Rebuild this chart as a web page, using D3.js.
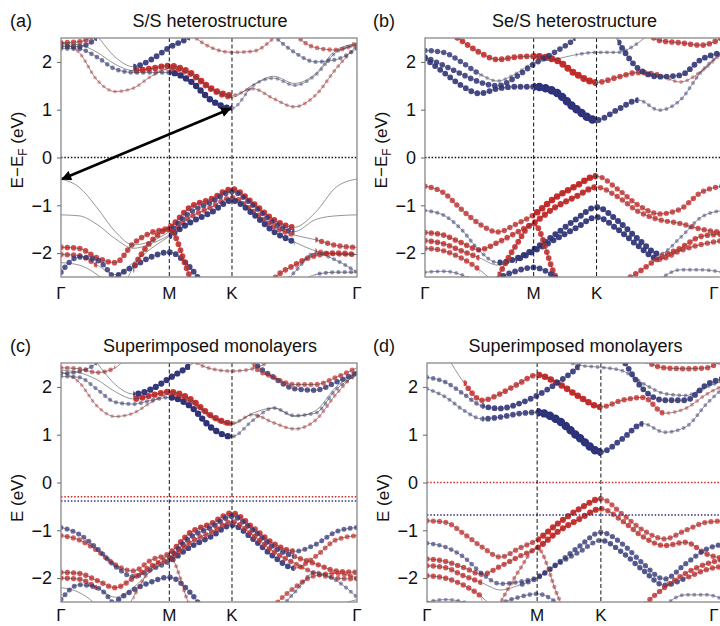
<!DOCTYPE html>
<html>
<head>
<meta charset="utf-8">
<script src="https://cdn.jsdelivr.net/npm/d3@7"></script>
<style>
  body { margin: 0; background: #fff; }
  svg { font-family: "Liberation Sans", Arial, Helvetica, sans-serif; }
</style>
</head>
<body>
<svg id="chart" width="720" height="626"></svg>
<script>
// k-path sample points (Γ–M–K–Γ) and high-symmetry labels
const kPts = [0, 0.096, 0.192, 0.289, 0.385, 0.481, 0.577, 0.688, 0.800, 0.911, 1.022, 1.133, 1.244, 1.355, 1.466, 1.577];
const symK = [0, 0.577, 0.911, 1.577];
const symLabels = ["Γ", "M", "K", "Γ"];
const yTicks = [-2, -1, 0, 1, 2];

// bands: e = energy at each kPt, dots = [fromIdx, toIdx, weight, layer]
const bandsA = [
  {e: [-1.88,-1.9,-2.1,-2.2,-1.8,-1.57,-1.46,-1.04,-0.87,-0.66,-0.95,-1.3,-1.46,-1.15,-0.62,-0.45], dots: [[0,6,0.85,"r"],[6,12,0.95,"r"]]},
  {e: [-0.45,-0.62,-1.05,-1.55,-1.83,-1.75,-1.55,-1.15,-0.94,-0.72,-1.0,-1.37,-1.55,-1.3,-1.22,-1.2], dots: [[6,12,0.8,"b"]]},
  {e: [-1.2,-1.22,-1.4,-1.7,-1.9,-1.8,-1.62,-1.25,-1.04,-0.84,-1.12,-1.45,-1.62,-1.72,-1.84,-1.88], dots: [[6,12,0.8,"r"],[13,15,0.8,"r"]]},
  {e: [-2.03,-2.05,-2.25,-2.45,-2.2,-1.9,-1.65,-1.36,-1.15,-0.9,-1.18,-1.55,-1.77,-1.95,-2.02,-2.03], dots: [[0,2,0.8,"r"],[6,12,0.95,"b"],[13,15,0.7,"r"]]},
  {e: [-3.3,-3.3,-2.8,-2.5,-2.28,-2.08,-1.98,-2.3,-2.9,-3.3,-3.3,-2.9,-2.4,-2.0,-2.15,-2.4], dots: [[3,8,0.9,"b"],[11,15,0.45,"b"]]},
  {e: [-2.4,-2.08,-2.15,-2.55,-3.0,-3.3,-3.3,-3.3,-3.3,-3.3,-3.3,-3.1,-2.7,-2.45,-2.4,-2.4], dots: [[0,3,0.8,"b"],[13,15,0.5,"b"]]},
  {e: [-3.3,-3.3,-3.3,-3.0,-2.3,-1.75,-1.5,-2.5,-3.3,-3.3,-3.3,-3.3,-3.3,-3.3,-3.3,-3.3], dots: [[4,8,0.9,"r"]]},
  {e: [-2.2,-2.25,-2.45,-2.8,-3.3,-3.3,-3.3,-3.3,-3.3,-3.3,-3.3,-2.55,-2.25,-2.05,-2.0,-2.03], dots: [[10,15,0.85,"r"]]},
  {e: [2.28,2.27,2.1,1.85,1.78,1.78,1.78,1.6,1.2,1.03,1.5,1.66,1.51,1.72,2.2,2.35], dots: [[0,6,0.6,"b"],[6,9,1.05,"b"],[9,15,0.35,"b"]]},
  {e: [2.38,2.36,2.2,1.95,1.82,1.86,1.92,1.78,1.45,1.3,1.44,1.23,1.06,1.3,1.86,2.35], dots: [[4,9,1.0,"r"],[9,15,0.4,"r"]]},
  {e: [2.4,2.2,1.62,1.38,1.45,1.7,1.86,1.74,1.42,1.26,1.52,1.7,1.55,1.75,2.25,2.38], dots: [[0,6,0.35,"r"],[6,9,0.8,"r"]]},
  {e: [3.3,3.0,2.55,2.1,1.9,2.05,2.3,2.52,2.85,3.3,3.3,3.3,3.3,3.3,3.3,3.3], dots: [[4,7,0.9,"b"]]},
  {e: [3.3,3.3,3.3,3.3,3.3,3.3,3.1,2.6,2.3,2.2,2.22,2.5,3.0,3.3,3.3,3.3], dots: [[7,11,0.45,"r"]]},
  {e: [2.33,2.32,2.5,2.9,3.3,3.3,3.3,3.3,3.3,3.3,3.0,2.55,2.2,2.0,2.05,2.28], dots: [[0,2,0.8,"b"],[11,15,0.5,"b"]]},
  {e: [2.4,2.42,2.6,3.0,3.3,3.3,3.3,3.3,3.3,3.3,3.3,3.3,2.6,2.3,2.25,2.4], dots: [[0,2,0.8,"r"],[12,15,0.6,"r"]]}
];

const bandsB = [
  {e: [-0.6,-0.73,-1.08,-1.39,-1.56,-1.4,-1.2,-0.85,-0.6,-0.39,-0.66,-1.0,-1.18,-1.08,-0.73,-0.6], dots: [[0,6,0.8,"r"],[6,9,1.1,"r"],[9,15,0.8,"r"]]},
  {e: [-1.57,-1.62,-1.78,-1.93,-1.78,-1.58,-1.37,-1.05,-0.82,-0.62,-0.82,-1.13,-1.3,-1.38,-1.5,-1.57], dots: [[0,6,0.85,"r"],[6,9,1.0,"r"],[9,15,0.8,"r"]]},
  {e: [-1.11,-1.2,-1.5,-1.95,-2.2,-2.12,-1.92,-1.62,-1.3,-1.04,-1.32,-1.71,-2.02,-1.68,-1.25,-1.11], dots: [[0,4,0.45,"b"],[4,12,0.95,"b"],[12,15,0.4,"b"]]},
  {e: [-1.74,-1.8,-1.95,-2.1,-2.25,-2.15,-1.96,-1.72,-1.48,-1.25,-1.5,-1.85,-2.13,-1.95,-1.82,-1.74], dots: [[0,3,0.85,"r"],[5,12,0.95,"b"],[12,15,0.8,"r"]]},
  {e: [-3.3,-3.3,-3.3,-3.1,-2.5,-1.85,-1.38,-2.45,-3.3,-3.3,-3.3,-3.3,-3.3,-3.3,-3.3,-3.3], dots: [[4,8,0.9,"r"]]},
  {e: [-3.3,-3.3,-3.3,-2.9,-2.55,-2.38,-2.3,-2.5,-3.0,-3.3,-3.3,-3.3,-3.3,-3.3,-3.3,-3.3], dots: [[3,8,0.9,"b"]]},
  {e: [-2.4,-2.38,-2.45,-2.7,-3.1,-3.3,-3.3,-3.3,-3.3,-3.3,-3.3,-2.9,-2.55,-2.35,-2.35,-2.4], dots: [[0,3,0.4,"b"],[11,15,0.4,"b"]]},
  {e: [-1.9,-1.95,-2.1,-2.35,-2.7,-3.3,-3.3,-3.3,-3.3,-3.3,-2.7,-2.4,-2.1,-1.9,-1.65,-1.6], dots: [[0,3,0.8,"r"],[10,15,0.85,"r"]]},
  {e: [2.07,1.79,1.51,1.34,1.44,1.48,1.48,1.38,1.02,0.78,1.0,1.2,0.99,1.2,1.79,2.2], dots: [[0,6,0.9,"b"],[6,9,1.6,"b"],[9,11,0.9,"b"],[11,15,0.4,"b"]]},
  {e: [3.3,2.75,2.45,2.2,2.05,2.1,2.12,2.05,1.75,1.57,1.68,1.78,1.72,1.58,1.8,2.2], dots: [[1,6,0.9,"r"],[6,9,1.2,"r"],[9,12,0.85,"r"],[12,15,0.4,"r"]]},
  {e: [2.1,1.93,1.75,1.58,1.5,1.68,1.95,2.2,2.5,3.0,3.3,3.3,3.3,3.3,3.3,3.3], dots: [[0,8,0.85,"b"]]},
  {e: [2.24,2.2,2.0,1.75,1.6,1.75,1.98,2.05,2.15,2.2,2.2,2.4,2.8,3.3,3.3,3.3], dots: [[0,3,0.8,"b"],[3,6,0.35,"b"],[8,11,0.4,"b"]]},
  {e: [3.3,3.3,3.3,3.3,3.3,3.3,3.3,3.3,3.3,3.3,2.45,1.86,1.69,1.72,2.05,2.2], dots: [[10,15,0.9,"b"]]},
  {e: [3.3,3.3,3.3,3.3,3.3,3.3,3.3,3.3,3.3,3.3,3.3,2.8,2.45,2.4,2.35,2.5], dots: [[11,15,0.85,"r"]]}
];

const bandsC = [
  {e: [-1.11,-1.2,-1.42,-1.72,-1.85,-1.62,-1.48,-1.05,-0.86,-0.64,-0.94,-1.28,-1.44,-1.3,-1.03,-0.94], dots: [[0,6,0.75,"r"],[6,12,0.9,"r"],[12,15,0.7,"b"]]},
  {e: [-0.94,-1.08,-1.38,-1.75,-1.97,-1.82,-1.65,-1.35,-1.13,-0.89,-1.18,-1.55,-1.79,-1.55,-1.2,-1.11], dots: [[0,6,0.7,"b"],[6,12,0.9,"b"],[12,15,0.7,"r"]]},
  {e: [-1.88,-1.9,-2.05,-2.2,-2.0,-1.75,-1.58,-1.15,-0.94,-0.71,-1.0,-1.36,-1.55,-1.7,-1.85,-1.88], dots: [[0,6,0.8,"r"],[6,12,0.8,"b"],[12,15,0.8,"r"]]},
  {e: [-2.0,-2.02,-2.2,-2.4,-2.2,-1.85,-1.6,-1.25,-1.04,-0.82,-1.1,-1.45,-1.69,-1.9,-2.0,-2.02], dots: [[0,2,0.8,"r"],[6,12,0.8,"r"],[12,15,0.7,"r"]]},
  {e: [-3.3,-3.3,-2.85,-2.5,-2.25,-2.08,-1.98,-2.3,-2.9,-3.3,-3.3,-2.8,-2.3,-1.88,-2.05,-2.4], dots: [[3,8,0.8,"b"],[11,15,0.45,"b"]]},
  {e: [-2.45,-2.14,-2.2,-2.6,-3.3,-3.3,-3.3,-3.3,-3.3,-3.3,-3.3,-3.3,-3.3,-2.9,-2.6,-2.45], dots: [[0,3,0.7,"b"]]},
  {e: [-3.3,-3.3,-3.3,-3.1,-2.4,-1.8,-1.55,-2.6,-3.3,-3.3,-3.3,-3.3,-3.3,-3.3,-3.3,-3.3], dots: [[4,8,0.45,"r"]]},
  {e: [-2.2,-2.3,-2.6,-3.3,-3.3,-3.3,-3.3,-3.3,-3.3,-3.3,-3.3,-2.6,-2.2,-1.95,-1.9,-2.0], dots: [[10,15,0.7,"r"]]},
  {e: [2.22,2.2,1.95,1.68,1.64,1.72,1.78,1.6,1.15,0.96,1.3,1.56,1.4,1.45,1.95,2.25], dots: [[0,6,0.5,"b"],[6,9,1.05,"b"],[9,15,0.4,"b"]]},
  {e: [2.35,2.3,2.15,1.9,1.75,1.82,1.9,1.75,1.4,1.24,1.42,1.25,1.12,1.3,1.85,2.32], dots: [[4,9,1.0,"r"],[9,15,0.4,"r"]]},
  {e: [2.32,2.1,1.6,1.38,1.45,1.68,1.85,1.7,1.38,1.22,1.45,1.56,1.38,1.5,2.0,2.3], dots: [[0,6,0.35,"r"],[6,9,0.6,"r"]]},
  {e: [3.3,3.0,2.5,2.05,1.85,1.95,2.18,2.45,2.8,3.3,3.3,3.3,3.3,3.3,3.3,3.3], dots: [[4,7,1.0,"b"]]},
  {e: [3.3,3.3,3.3,3.3,3.3,3.3,3.1,2.6,2.38,2.33,2.38,2.6,3.0,3.3,3.3,3.3], dots: [[7,11,0.45,"r"]]},
  {e: [2.28,2.32,2.5,2.9,3.3,3.3,3.3,3.3,3.3,3.3,2.55,2.2,1.96,1.93,2.1,2.3], dots: [[0,2,0.6,"b"],[10,15,0.8,"b"]]},
  {e: [2.4,2.38,2.3,2.4,2.8,3.3,3.3,3.3,3.3,3.3,2.45,2.2,2.05,2.05,2.2,2.4], dots: [[0,3,0.6,"r"],[10,15,0.7,"r"]]}
];

const bandsD = [
  {e: [-0.8,-0.83,-1.07,-1.35,-1.56,-1.38,-1.2,-0.85,-0.55,-0.34,-0.66,-1.0,-1.18,-1.0,-0.83,-0.8], dots: [[0,6,0.75,"r"],[6,9,1.0,"r"],[9,15,0.75,"r"]]},
  {e: [-1.6,-1.65,-1.78,-1.92,-1.75,-1.55,-1.37,-1.02,-0.76,-0.55,-0.8,-1.14,-1.32,-1.25,-1.5,-1.6], dots: [[0,6,0.8,"r"],[6,9,1.0,"r"],[9,15,0.8,"r"]]},
  {e: [-1.27,-1.35,-1.56,-1.91,-2.12,-2.08,-1.98,-1.68,-1.33,-1.04,-1.28,-1.7,-2.02,-1.7,-1.39,-1.28], dots: [[0,6,0.6,"b"],[6,9,0.75,"b"],[9,15,0.75,"b"]]},
  {e: [-1.74,-1.78,-1.95,-2.1,-2.25,-2.15,-2.0,-1.7,-1.45,-1.21,-1.46,-1.84,-2.15,-2.0,-1.82,-1.74], dots: [[0,3,0.8,"r"],[5,9,0.7,"b"],[9,13,0.8,"b"],[13,15,0.8,"r"]]},
  {e: [-3.3,-3.3,-3.3,-3.1,-2.5,-1.85,-1.37,-2.4,-3.3,-3.3,-3.3,-3.3,-3.3,-3.3,-3.3,-3.3], dots: [[4,8,0.5,"r"]]},
  {e: [-3.3,-3.3,-3.3,-2.9,-2.55,-2.4,-2.33,-2.55,-3.1,-3.3,-3.3,-3.3,-3.3,-3.3,-3.3,-3.3], dots: [[4,8,0.6,"b"]]},
  {e: [-2.5,-2.45,-2.5,-2.75,-3.3,-3.3,-3.3,-3.3,-3.3,-3.3,-3.3,-3.3,-2.6,-2.35,-2.35,-2.5], dots: [[0,3,0.4,"b"],[11,15,0.4,"b"]]},
  {e: [-1.95,-2.0,-2.15,-2.4,-2.8,-3.3,-3.3,-3.3,-3.3,-3.3,-3.3,-2.6,-2.2,-1.9,-1.7,-1.6], dots: [[0,3,0.8,"r"],[10,15,0.8,"r"]]},
  {e: [1.96,1.79,1.51,1.33,1.37,1.44,1.47,1.3,0.93,0.64,0.91,1.23,1.05,1.16,1.65,2.07], dots: [[0,3,0.45,"b"],[3,6,0.85,"b"],[6,9,1.6,"b"],[9,11,0.9,"b"],[11,15,0.4,"b"]]},
  {e: [3.3,2.7,2.1,1.72,1.86,2.07,2.25,2.07,1.79,1.58,1.72,1.78,1.45,1.55,1.85,2.07], dots: [[2,6,0.85,"r"],[6,9,1.1,"r"],[9,12,0.8,"r"],[12,15,0.4,"r"]]},
  {e: [2.2,2.1,1.85,1.6,1.55,1.65,1.82,2.1,2.45,3.0,3.3,3.3,3.3,3.3,3.3,3.3], dots: [[0,3,0.6,"b"],[3,8,0.9,"b"]]},
  {e: [3.3,3.3,3.3,3.3,3.3,3.0,2.7,2.6,2.45,2.41,2.34,2.07,1.86,1.82,2.0,2.17], dots: [[7,15,0.4,"b"]]},
  {e: [3.3,3.3,3.3,3.3,3.3,3.3,3.3,3.3,3.3,3.3,2.6,1.95,1.72,1.72,2.05,2.2], dots: [[10,15,0.9,"b"]]},
  {e: [3.3,3.3,3.3,3.3,3.3,3.3,3.3,3.3,3.3,3.3,3.3,2.6,2.4,2.38,2.4,2.7], dots: [[11,15,0.8,"r"]]}
];

// reference (Fermi / monolayer) levels per panel
const refA = [{e: 0, layer: "k"}];
const refB = [{e: 0, layer: "k"}];
const refC = [{e: -0.30, layer: "r"}, {e: -0.385, layer: "b"}];
const refD = [{e: 0, layer: "r"}, {e: -0.68, layer: "b"}];

// indirect-gap arrow in (a): [k, E] ends
const arrowA = [[0.006, -0.45], [0.902, 1.02]];

const colors = {r: "#cf2b2b", b: "#2c317e", k: "#111"};

const panels = [
  {id: "a", letter: "(a)", title: "S/S heterostructure", x0: 61, x1: 357, y0: 38, y1: 277, kly: 299, bands: bandsA, refs: refA, ylab: "EF", ly: 150, arrow: arrowA},
  {id: "b", letter: "(b)", title: "Se/S heterostructure", x0: 425, x1: 722, y0: 38, y1: 277, kly: 299, bands: bandsB, refs: refB, ylab: "EF", ly: 150},
  {id: "c", letter: "(c)", title: "Superimposed monolayers", x0: 61, x1: 357, y0: 363, y1: 602, kly: 621, bands: bandsC, refs: refC, ylab: "E", ly: 498},
  {id: "d", letter: "(d)", title: "Superimposed monolayers", x0: 427, x1: 728, y0: 363, y1: 602, kly: 621, bands: bandsD, refs: refD, ylab: "E", ly: 498}
];

const svg = d3.select("#chart");
const defs = svg.append("defs");

defs.append("marker")
  .attr("id", "arrowHead")
  .attr("viewBox", "0 0 10 10")
  .attr("refX", 9).attr("refY", 5)
  .attr("markerUnits", "userSpaceOnUse")
  .attr("markerWidth", 13).attr("markerHeight", 10)
  .attr("orient", "auto-start-reverse")
  .append("path")
  .attr("d", "M0,0 L10,5 L0,10 Z")
  .attr("fill", "#000");

panels.forEach(p => {
  const x = d3.scaleLinear().domain([0, 1.577]).range([p.x0, p.x1]);
  const y = d3.scaleLinear().domain([-2.5, 2.5]).range([p.y1, p.y0]);
  const line = d3.line()
    .x((d, i) => x(kPts[i]))
    .y(d => y(d))
    .curve(d3.curveMonotoneX);

  defs.append("clipPath").attr("id", "clip-" + p.id)
    .append("rect")
    .attr("x", p.x0).attr("y", p.y0)
    .attr("width", p.x1 - p.x0).attr("height", p.y1 - p.y0);

  const g = svg.append("g");
  const plot = g.append("g").attr("clip-path", "url(#clip-" + p.id + ")");

  // fat-band dots
  p.bands.forEach((b, bi) => {
    b.dots.forEach((dr, di) => {
      const cid = "r-" + p.id + "-" + bi + "-" + di;
      const xa = x(kPts[dr[0]]), xb = x(kPts[dr[1]]);
      defs.append("clipPath").attr("id", cid)
        .append("rect")
        .attr("x", xa).attr("y", p.y0 - 10)
        .attr("width", xb - xa).attr("height", p.y1 - p.y0 + 20);
      const w = dr[2];
      plot.append("path")
        .attr("d", line(b.e))
        .attr("clip-path", "url(#" + cid + ")")
        .attr("fill", "none")
        .attr("stroke", colors[dr[3]])
        .attr("stroke-opacity", Math.min(1, 0.12 + 0.85 * w))
        .attr("stroke-width", 2 * (1.2 + 1.9 * w))
        .attr("stroke-linecap", "round")
        .attr("stroke-dasharray", "0 6.3");
    });
  });

  // band lines
  plot.selectAll(".band")
    .data(p.bands)
    .enter().append("path")
    .attr("class", "band")
    .attr("d", d => line(d.e))
    .attr("fill", "none")
    .attr("stroke", "#444")
    .attr("stroke-opacity", 0.75)
    .attr("stroke-width", 0.75);

  // reference levels
  g.selectAll(".ref")
    .data(p.refs)
    .enter().append("line")
    .attr("x1", p.x0).attr("x2", p.x1)
    .attr("y1", d => y(d.e)).attr("y2", d => y(d.e))
    .attr("stroke", d => colors[d.layer])
    .attr("stroke-width", 1.5)
    .attr("stroke-dasharray", "1.5 1.8");

  // high-symmetry lines
  g.selectAll(".sym")
    .data(symK.slice(1, 3))
    .enter().append("line")
    .attr("x1", d => x(d)).attr("x2", d => x(d))
    .attr("y1", p.y0).attr("y2", p.y1)
    .attr("stroke", "#111")
    .attr("stroke-width", 1)
    .attr("stroke-dasharray", "4 2.5");

  // frame
  g.append("rect")
    .attr("x", p.x0).attr("y", p.y0)
    .attr("width", p.x1 - p.x0).attr("height", p.y1 - p.y0)
    .attr("fill", "none")
    .attr("stroke", "#888")
    .attr("stroke-width", 1.3);

  if (p.arrow) {
    g.append("line")
      .attr("x1", x(p.arrow[0][0])).attr("y1", y(p.arrow[0][1]))
      .attr("x2", x(p.arrow[1][0])).attr("y2", y(p.arrow[1][1]))
      .attr("stroke", "#000")
      .attr("stroke-width", 2.6)
      .attr("marker-start", "url(#arrowHead)")
      .attr("marker-end", "url(#arrowHead)");
  }

  // y axis
  const ax = g.append("g")
    .attr("transform", "translate(" + p.x0 + ",0)")
    .call(d3.axisLeft(y).tickValues(yTicks).tickFormat(d3.format("d")).tickSize(4).tickPadding(5));
  ax.select(".domain").remove();
  ax.selectAll(".tick line").attr("stroke", "#666");
  ax.selectAll(".tick text")
    .attr("font-size", 18)
    .attr("font-family", "'Liberation Sans', Arial, sans-serif")
    .attr("fill", "#111");

  // k labels (last Γ may sit past the page edge, as in the original)
  g.selectAll(".klab")
    .data(symK)
    .enter().append("text")
    .attr("x", d => Math.min(x(d), 714))
    .attr("y", p.kly)
    .attr("text-anchor", "middle")
    .attr("font-size", 17)
    .attr("fill", "#111")
    .text((d, i) => symLabels[i]);

  // y label
  const lx = p.x0 - 44;
  const yl = g.append("text")
    .attr("transform", "translate(" + lx + "," + p.ly + ") rotate(-90)")
    .attr("text-anchor", "middle")
    .attr("dy", "0.35em")
    .attr("font-size", 17)
    .attr("fill", "#111");
  if (p.ylab === "EF") {
    yl.append("tspan").text("E−E");
    yl.append("tspan").attr("font-size", 12).attr("dy", 4).text("F");
    yl.append("tspan").attr("dy", -4).text(" (eV)");
  } else {
    yl.text("E (eV)");
  }

  // title and letter
  g.append("text")
    .attr("x", (p.x0 + Math.min(p.x1, 722)) / 2 + 1)
    .attr("y", p.y0 - 11)
    .attr("text-anchor", "middle")
    .attr("font-size", 18)
    .attr("fill", "#111")
    .text(p.title);
  g.append("text")
    .attr("x", p.x0 < 200 ? 10 : 373)
    .attr("y", p.y0 - 11)
    .attr("font-size", 18)
    .attr("fill", "#111")
    .text(p.letter);
});
</script>
</body>
</html>
